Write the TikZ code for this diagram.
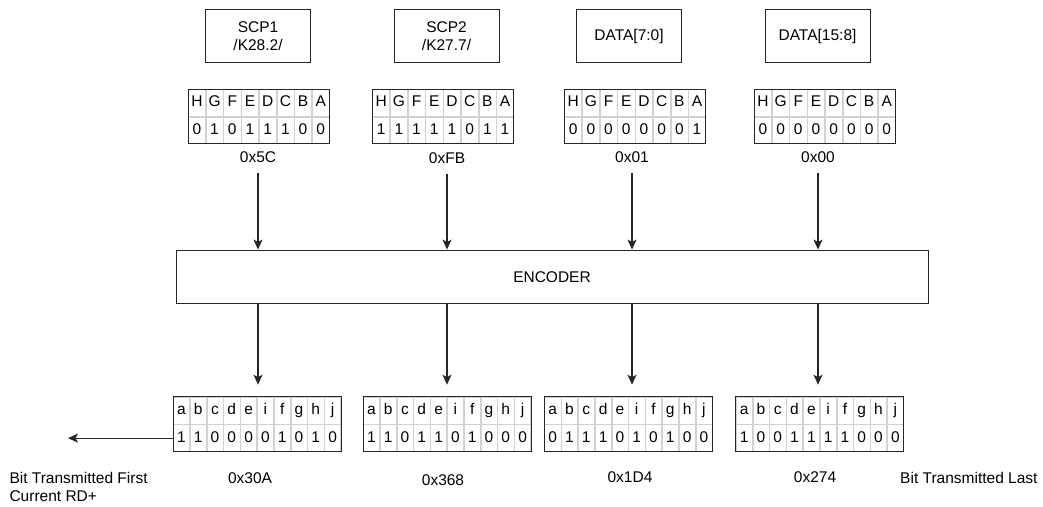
\documentclass[tikz,border=0pt]{standalone}
\usepackage{fontspec}
\setmainfont{Liberation Sans}
\usetikzlibrary{arrows.meta,positioning,calc,matrix}

\newcommand{\figfont}{\fontsize{15.5}{18}\selectfont}
\newcommand{\bitfont}{\fontsize{15.5}{17}\selectfont}

\tikzset{
  labelbox/.style={draw=black!85, line width=1pt, minimum width=105pt, minimum height=53.4pt, align=center},
  encbox/.style={draw=black!85, line width=1pt, minimum width=752pt, minimum height=53.3pt},
  cell/.style 2 args={draw=gray!35, line width=0.6pt, inner sep=0pt, outer sep=0pt,
    minimum width=#1, minimum height=#2, text height=11pt, text depth=3pt, font=\bitfont},
  bitgrid/.style={matrix of nodes, anchor=north west, inner sep=0pt, outer sep=0pt,
    column sep=0pt, row sep=0pt},
  gridframe/.style={draw=black!85, line width=1pt},
  flow/.style={-{Stealth[length=10pt,width=9pt,inset=2.5pt]}, line width=1.1pt, draw=black!85},
}

\begin{document}
\begin{tikzpicture}[x=1pt, y=-1pt, every node/.style={font=\figfont}]
  \useasboundingbox (0,0) rectangle (1043,506);
  % Input symbols
  \node[labelbox] (scp1) at (258,36) {SCP1\\/K28.2/};
  \node[labelbox] (scp2) at (446.5,36) {SCP2\\/K27.7/};
  \node[labelbox] (dlow) at (629,36) {DATA[7:0]};
  \node[labelbox] (dhigh) at (817.5,36) {DATA[15:8]};
  % 8-bit values
  \matrix (tin1) [bitgrid, nodes={cell={17.1pt}{26.7pt}}] at (188,89.3) {
    H & G & F & E & D & C & B & A \\
    0 & 1 & 0 & 1 & 1 & 1 & 0 & 0 \\
  };
  \matrix (tin2) [bitgrid, nodes={cell={17.1pt}{26.7pt}}] at (372.3,89.3) {
    H & G & F & E & D & C & B & A \\
    1 & 1 & 1 & 1 & 1 & 0 & 1 & 1 \\
  };
  \matrix (tin3) [bitgrid, nodes={cell={17.1pt}{26.7pt}}] at (564.3,89.3) {
    H & G & F & E & D & C & B & A \\
    0 & 0 & 0 & 0 & 0 & 0 & 0 & 1 \\
  };
  \matrix (tin4) [bitgrid, nodes={cell={17.1pt}{26.7pt}}] at (754,89.3) {
    H & G & F & E & D & C & B & A \\
    0 & 0 & 0 & 0 & 0 & 0 & 0 & 0 \\
  };
  \node (hex1) at (258,157) {0x5C};
  \node (hex2) at (447,158) {0xFB};
  \node (hex3) at (632,157) {0x01};
  \node (hex4) at (818,157) {0x00};
  % Encoder
  \node[encbox] (enc) at (552,276.7) {ENCODER};
  % 10-bit codes
  \matrix (out1) [bitgrid, nodes={cell={16.2pt}{27pt}}] at (173,396.7) {
    a & b & c & d & e & i & f & g & h & j \\
    1 & 1 & 0 & 0 & 0 & 0 & 1 & 0 & 1 & 0 \\
  };
  \matrix (out2) [bitgrid, nodes={cell={16.2pt}{27pt}}] at (363,396.7) {
    a & b & c & d & e & i & f & g & h & j \\
    1 & 1 & 0 & 1 & 1 & 0 & 1 & 0 & 0 & 0 \\
  };
  \matrix (out3) [bitgrid, nodes={cell={16.2pt}{27pt}}] at (544.3,396.7) {
    a & b & c & d & e & i & f & g & h & j \\
    0 & 1 & 1 & 1 & 0 & 1 & 0 & 1 & 0 & 0 \\
  };
  \matrix (out4) [bitgrid, nodes={cell={16.2pt}{27pt}}] at (735.7,396.7) {
    a & b & c & d & e & i & f & g & h & j \\
    1 & 0 & 0 & 1 & 1 & 1 & 1 & 0 & 0 & 0 \\
  };
  \foreach \m in {tin1,tin2,tin3,tin4,out1,out2,out3,out4}
    \draw[gridframe] (\m.north west) rectangle (\m.south east);
  \node (code1) at (250,478) {0x30A};
  \node (code2) at (443,480) {0x368};
  \node (code3) at (630,477) {0x1D4};
  \node (code4) at (815,477) {0x274};
  \node[anchor=west, align=left] (first) at (6,486.5) {Bit Transmitted First\\Current RD+};
  \node[anchor=west] (last) at (896.7,478) {Bit Transmitted Last};
  \coordinate (firstend) at (68,437);
  % Arrows
  \foreach \h in {hex1,hex2,hex3,hex4} {
    \draw[flow] ([yshift=-7pt]\h.south) -- (\h |- enc.north);
    \draw[flow] (\h |- enc.south) -- ($(\h |- out1.north)+(0,-12)$);
  }
  \draw[flow] (out1-2-1.west) -- (out1-2-1.west -| firstend);
\end{tikzpicture}
\end{document}
